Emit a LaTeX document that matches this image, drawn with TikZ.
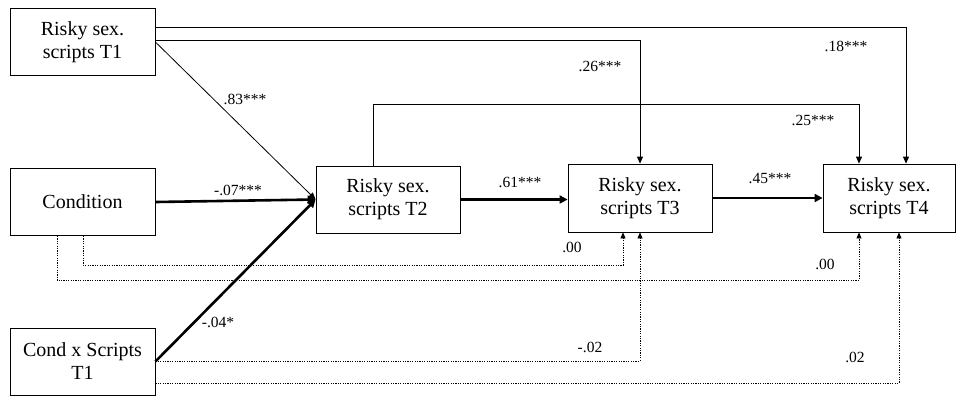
\documentclass[tikz,border=0pt]{standalone}
\usepackage{fontspec}
\setmainfont{Liberation Serif}
\usetikzlibrary{arrows.meta}
\begin{document}
\begin{tikzpicture}[x=1pt,y=-1pt,
  box/.style={draw,line width=0.8pt,minimum width=145pt,minimum height=67pt,align=center,inner sep=0pt,font=\fontsize{20}{23}\selectfont},
  lab/.style={inner sep=0pt,font=\fontsize{15.5}{18}\selectfont},
  conn/.style={line width=0.8pt,-{Triangle[length=7pt,width=6pt]}},
  bold/.style={line width=2.6pt,-{Triangle[length=8pt,width=8pt]}},
  dotarrow/.style={line width=0.8pt,dash pattern=on 1.2pt off 1.2pt,-{Triangle[length=6pt,width=5pt]}}
]
\fill[white] (0,0) rectangle (957,397);
\useasboundingbox (0,0) rectangle (957,397);

% boxes
\node[box] (t1) at (82.5,42) {Risky sex.\\scripts T1};
\node[box] (cond) at (82.5,202) {Condition};
\node[box] (cxs) at (82.5,361.5) {Cond x Scripts\\T1};
\node[box,minimum width=144pt] (t2) at (388,199.5) {Risky sex.\\scripts T2};
\node[box,minimum width=144pt,minimum height=68pt] (t3) at (640,198) {Risky sex.\\scripts T3};
\node[box,minimum width=132pt,minimum height=68pt] (t4) at (889,198) {Risky sex.\\scripts T4};

% helper coordinates
\coordinate (h18) at (906,27);
\coordinate (h26) at (640,40);
\coordinate (h25a) at (373,104);
\coordinate (h25) at (859,104);
\coordinate (d1) at (83,265);
\coordinate (d1e) at (623,265);
\coordinate (d2) at (57,280);
\coordinate (d2e) at (859,280);
\coordinate (d3) at (640,361);
\coordinate (d4) at (899,383);

% solid thin paths
\draw[conn] (t1.east |- h18) -| (t4.north -| h18);
\draw[conn] (t1.east |- h26) -| (t3.north -| h26);
\draw[conn] (t2.north -| h25a) -- (h25a) -| (t4.north -| h25);
\draw[conn] (t1.east) -- (t2.west);

% thick paths
\draw[bold] (cond.east) -- (t2.west);
\draw[bold] (cxs.east) -- (t2.west);
\draw[bold] (t2.east) -- (t2.east -| t3.west);
\draw[bold] (t3.east) -- (t3.east -| t4.west);

% dotted paths
\draw[dotarrow] (cond.south -| d1) -- (d1) -| (t3.south -| d1e);
\draw[dotarrow] (cond.south -| d2) -- (d2) -| (t4.south -| d2e);
\draw[dotarrow] (cxs.east |- d3) -| (t3.south -| d3);
\draw[dotarrow] (cxs.east |- d4) -| (t4.south -| d4);

% labels
\node[lab] (l83) at (245,99) {.83***};
\node[lab] (l07) at (238,190) {-.07***};
\node[lab] (l04) at (218,322) {-.04*};
\node[lab] (l61) at (520,182) {.61***};
\node[lab] (l45) at (770,179) {.45***};
\node[lab] (l26) at (600,66) {.26***};
\node[lab] (l18) at (846,46) {.18***};
\node[lab] (l25) at (813,120) {.25***};
\node[lab] (l00a) at (572,247) {.00};
\node[lab] (l00b) at (825,264) {.00};
\node[lab] (l02a) at (590,347) {-.02};
\node[lab] (l02b) at (855,357) {.02};
\end{tikzpicture}
\end{document}
